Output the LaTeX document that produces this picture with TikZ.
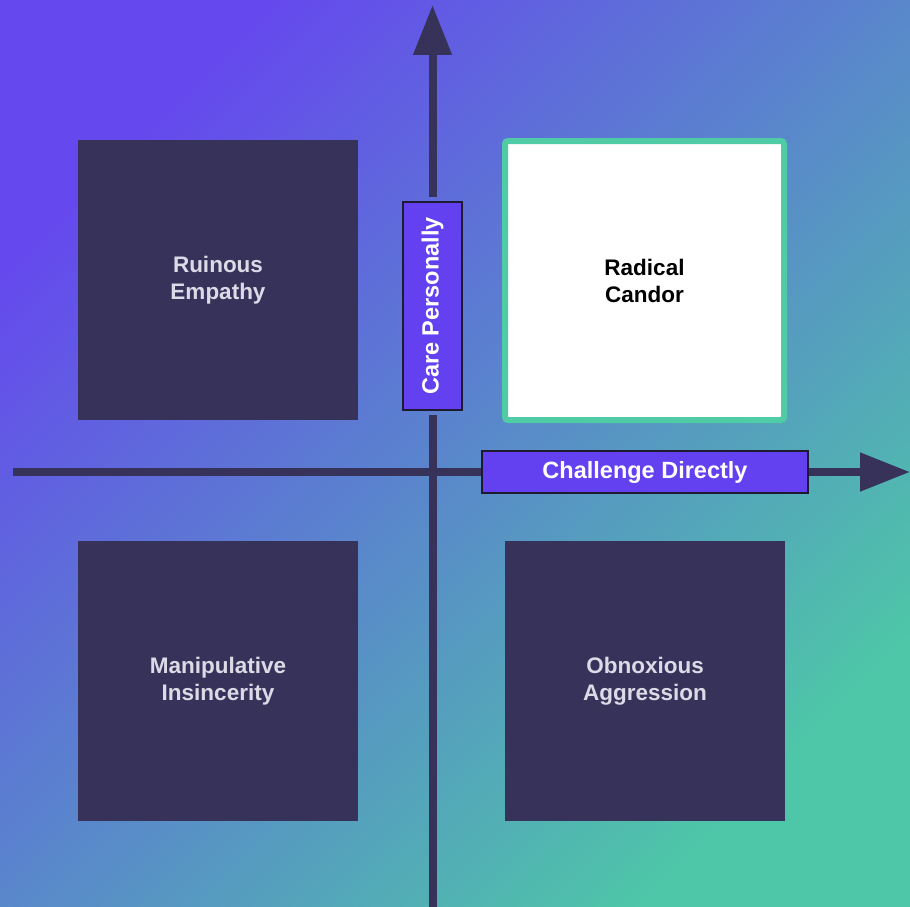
\documentclass[tikz,border=0pt]{standalone}
\usepackage{fontspec}
\setmainfont{Liberation Sans}
\usetikzlibrary{arrows.meta}
\definecolor{bgA}{HTML}{6548EE}
\definecolor{bgM}{HTML}{5A86CC}
\definecolor{bgB}{HTML}{4EC6A8}
\definecolor{axisc}{HTML}{37325A}
\definecolor{quadc}{HTML}{37325A}
\definecolor{quadtext}{HTML}{DCDAE6}
\definecolor{labfill}{HTML}{6441F0}
\definecolor{labedge}{HTML}{1E1B30}
\definecolor{candoredge}{HTML}{4FCCA6}
\begin{document}
\begin{tikzpicture}[x=1pt,y=-1pt,
  quad/.style={fill=quadc, minimum width=280pt, minimum height=280pt, inner sep=0pt,
    text=quadtext, align=center, font=\bfseries\fontsize{22.5}{27}\selectfont},
  candor/.style={fill=white, draw=candoredge, line width=6pt, rounded corners=3pt,
    minimum width=279pt, minimum height=279pt, inner sep=0pt,
    text=black, align=center, font=\bfseries\fontsize{22.5}{27}\selectfont},
  axislabel/.style={fill=labfill, draw=labedge, line width=1.5pt, inner sep=0pt,
    text=white, font=\bfseries\fontsize{23.5}{28}\selectfont},
  axisline/.style={draw=axisc, line width=8pt},
  axishead/.style={-{Triangle[length=50pt,width=37pt]}}
]
\shade[top color=bgA, middle color=bgM, bottom color=bgB, shading angle=45] (0,0) rectangle (910,907);
\useasboundingbox (0,0) rectangle (910,907);

\node[quad] (ruinous) at (218,280) {Ruinous\\Empathy};
\node[candor] (radical) at (644.5,280.5) {Radical\\Candor};
\node[quad] (manip) at (218,681) {Manipulative\\Insincerity};
\node[quad] (obnox) at (645,681) {Obnoxious\\Aggression};

\node[axislabel, minimum width=208pt, minimum height=59pt, rotate=90] (care) at (432.5,306) {Care Personally};
\node[axislabel, minimum width=326pt, minimum height=42pt] (challenge) at (645,472) {Challenge Directly};

\coordinate (vbot) at (432.5,907);
\coordinate (vtop) at (432.5,5);
\coordinate (hleft) at (13,472);
\coordinate (hright) at (910,472);

\draw[axisline] (hleft) -- (challenge);
\draw[axisline, shorten >=4pt] (vbot) -- (care);
\draw[axisline, axishead, shorten <=4pt] (care) -- (vtop);
\draw[axisline, axishead] (challenge) -- (hright);
\end{tikzpicture}
\end{document}
